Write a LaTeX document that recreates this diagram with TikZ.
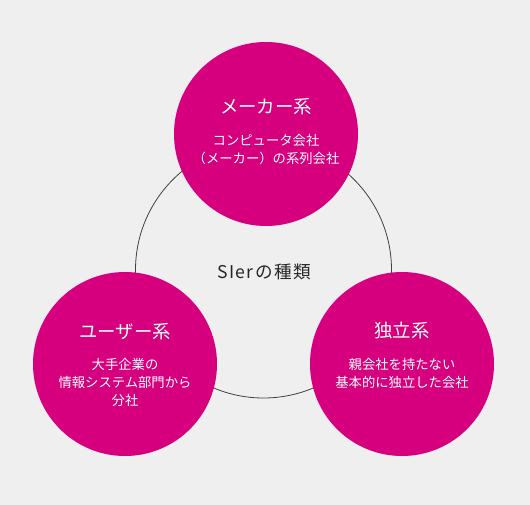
\documentclass[tikz,border=0pt]{standalone}
\usepackage{fontspec}
\newfontfamily\jp{Noto Sans CJK JP}
\definecolor{bg}{HTML}{EFEFEF}
\definecolor{mag}{HTML}{D6007F}
\begin{document}
\begin{tikzpicture}[x=0.75pt,y=-0.75pt,
  blob/.style={circle,fill=mag,minimum size=138pt,inner sep=0pt},
  ttl/.style={text=white,font=\jp\fontsize{13.8}{16}\selectfont},
  sub/.style={text=white,font=\jp\fontsize{10}{13.5}\selectfont,align=center}]
\fill[bg] (0,0) rectangle (530,505);
\useasboundingbox (0,0) rectangle (530,505);
\node[draw=black!75,line width=0.6pt,circle,minimum size=192pt,inner sep=0pt] (ring) at (263.5,270) {};
\node[font=\jp\fontsize{13.2}{15}\selectfont\addfontfeature{LetterSpace=8},text=black!85] (lbl) at (264,272) {SIerの種類};
\node[blob] (top) at (266,134) {};
\node[blob] (left) at (125,364) {};
\node[blob] (right) at (402,364) {};
\node[ttl] (t1) at (266,107) {メーカー系};
\node[sub] (s1) at (266,150) {コンピュータ会社\\（メーカー）の系列会社};
\node[ttl] (t2) at (125,332) {ユーザー系};
\node[sub] (s2) at (125,382) {大手企業の\\情報システム部門から\\分社};
\node[ttl] (t3) at (402,331) {独立系};
\node[sub] (s3) at (402,373) {親会社を持たない\\基本的に独立した会社};
\end{tikzpicture}
\end{document}
